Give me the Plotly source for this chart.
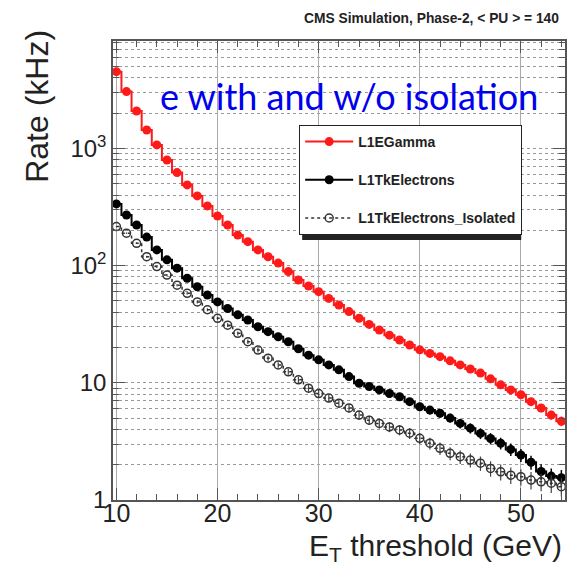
import plotly.graph_objects as go

et_threshold = list(range(10, 55))

rate_l1egamma = [4510, 3050, 2085, 1435, 1070, 796, 621, 488, 393, 323,
                 265, 222, 182, 160, 136, 119, 105, 88.8, 75.4, 67,
                 59.9, 52.5, 46.1, 40.5, 35.5, 31.5, 28.2, 25.5, 23.2, 21.0,
                 19.1, 17.8, 16.7, 15.4, 14.2, 13.1, 12.1, 10.8, 9.6, 8.7,
                 7.9, 6.9, 6.1, 5.3, 4.7]
err_l1egamma = [13.6, 11.2, 9.2, 7.7, 6.6, 5.7, 5.0, 4.5, 4.0, 3.6,
                3.3, 3.0, 2.7, 2.6, 2.4, 2.2, 2.1, 1.9, 1.8, 1.66,
                1.57, 1.47, 1.37, 1.29, 1.21, 1.14, 1.08, 1.02, 0.98, 0.93,
                0.88, 0.85, 0.83, 0.79, 0.76, 0.73, 0.70, 0.67, 0.63, 0.60,
                0.57, 0.53, 0.50, 0.47, 0.44]

rate_tkele = [336, 270, 222, 175, 136, 112, 95, 78, 66, 56,
              49, 43, 38, 34.3, 30.1, 27.3, 24.7, 22.4, 19.5, 17.2,
              15.7, 14.2, 12.9, 11.3, 9.9, 9.3, 8.7, 8.1, 7.6, 6.9,
              6.25, 5.85, 5.5, 5.0, 4.5, 4.1, 3.7, 3.35, 3.05, 2.7,
              2.42, 2.1, 1.75, 1.6, 1.55]
err_tkele = [3.7, 3.3, 3.0, 2.7, 2.4, 2.1, 2.0, 1.8, 1.6, 1.5,
             1.4, 1.33, 1.25, 1.19, 1.11, 1.06, 1.01, 0.96, 0.89, 0.84,
             0.80, 0.76, 0.73, 0.68, 0.64, 0.62, 0.60, 0.58, 0.56, 0.53,
             0.51, 0.49, 0.47, 0.45, 0.43, 0.41, 0.39, 0.37, 0.35, 0.33,
             0.31, 0.29, 0.27, 0.26, 0.25]

rate_tkele_iso = [215, 189, 155, 119, 98, 83, 68, 58, 49, 42,
                  35.5, 31, 26.4, 22.4, 19, 16.2, 14.2, 12.4, 10.6, 9.0,
                  8.1, 7.4, 6.7, 6.1, 5.3, 4.8, 4.5, 4.2, 3.96, 3.71,
                  3.36, 3.05, 2.76, 2.50, 2.34, 2.19, 2.06, 1.86, 1.74, 1.63,
                  1.58, 1.48, 1.43, 1.39, 1.30]
err_tkele_iso = [3.0, 2.8, 2.5, 2.2, 2.0, 1.8, 1.67, 1.54, 1.42, 1.31,
                 1.21, 1.13, 1.04, 0.96, 0.88, 0.81, 0.76, 0.71, 0.66, 0.61,
                 0.58, 0.55, 0.52, 0.50, 0.47, 0.44, 0.43, 0.41, 0.40, 0.39,
                 0.37, 0.35, 0.34, 0.32, 0.31, 0.30, 0.29, 0.28, 0.27, 0.26,
                 0.25, 0.25, 0.24, 0.24, 0.23]

y_tickvals = [1, 10, 100, 1000]
y_ticktext = ["1", "10", "10<sup>2</sup>", "10<sup>3</sup>"]
y_minor_vals = [m * d for d in (1, 10, 100, 1000) for m in range(2, 10)]

FONT = "Liberation Sans, Arial, Helvetica, sans-serif"

fig = go.Figure()

fig.add_trace(go.Scatter(
    x=et_threshold, y=rate_l1egamma, name="L1EGamma", legendgroup="a",
    mode="lines+markers", line=dict(color="#ff1a1a", width=2, shape="hvh"),
    marker=dict(symbol="circle", size=9, color="#ff1a1a"),
    error_y=dict(type="data", array=err_l1egamma, color="#ff1a1a", thickness=1.5, width=0),
))
fig.add_trace(go.Scatter(
    x=et_threshold, y=rate_tkele, name="L1TkElectrons", legendgroup="b",
    mode="lines+markers", line=dict(color="#000000", width=2, shape="hvh"),
    marker=dict(symbol="circle", size=9, color="#000000"),
    error_y=dict(type="data", array=err_tkele, color="#000000", thickness=1.5, width=0),
))
fig.add_trace(go.Scatter(
    x=et_threshold, y=rate_tkele_iso, name="L1TkElectrons_Isolated", legendgroup="c",
    mode="lines+markers", line=dict(color="#333333", width=1.5, dash="dot", shape="hvh"),
    marker=dict(symbol="circle-open", size=8, color="#333333", line=dict(width=1.5)),
    error_y=dict(type="data", array=err_tkele_iso, color="#444444", thickness=1.2, width=0),
))

axis_col = "#555555"
fig.update_xaxes(
    range=[9.665, 54.36], showline=True, linecolor=axis_col, linewidth=1.5, mirror="ticks",
    ticks="inside", ticklen=12, tickwidth=1, tickcolor=axis_col, tick0=10, dtick=10,
    showgrid=True, gridcolor="#aaaaaa", gridwidth=1, zeroline=False,
    minor=dict(dtick=2, tick0=10, ticks="inside", ticklen=6, tickcolor=axis_col, showgrid=False),
    tickfont=dict(family=FONT, size=25, color="#222222"), ticklabelstandoff=-10,
)
fig.update_yaxes(
    type="log", range=[0, 3.916], showline=True, linecolor=axis_col, linewidth=1.5, mirror="ticks",
    ticks="inside", ticklen=12, tickwidth=1, tickcolor=axis_col,
    tickmode="array", tickvals=y_tickvals, ticktext=y_ticktext,
    showgrid=True, gridcolor="#999999", gridwidth=1, griddash="dot", zeroline=False,
    minor=dict(tickmode="array", tickvals=y_minor_vals, ticks="inside", ticklen=6,
               tickcolor=axis_col, showgrid=True, gridcolor="#999999", gridwidth=1, griddash="dot"),
    tickfont=dict(family=FONT, size=24, color="#222222"),
)

# legend shadow
fig.add_shape(type="rect", xref="paper", yref="paper",
              x0=(303 - 113) / 454, x1=(523 - 113) / 454,
              y0=(500 - 240) / 459, y1=(500 - 128) / 459,
              fillcolor="#222222", line=dict(width=0), layer="above")

fig.update_layout(
    width=567, height=568,
    margin=dict(l=113, r=0, t=41, b=68),
    paper_bgcolor="white", plot_bgcolor="white",
    font=dict(family=FONT, color="#222222"),
    showlegend=True,
    legend=dict(x=(300 - 113) / 454, y=(500 - 125) / 459, xanchor="left", yanchor="top",
                bgcolor="white", bordercolor="#222222", borderwidth=1,
                font=dict(family=FONT, size=14, color="#222222", weight="bold"),
                tracegroupgap=17, itemwidth=48),
    annotations=[
        dict(text="CMS Simulation, Phase-2, < PU > = 140", xref="paper", yref="paper",
             x=(563 - 113) / 454, y=(500 - 18) / 459, xanchor="right", yanchor="middle",
             showarrow=False, font=dict(family=FONT, size=13.8, color="#222222", weight="bold")),
        dict(text="e with and w/o isolation", xref="paper", yref="paper",
             x=(350 - 113) / 454, y=(500 - 96) / 459, xanchor="center", yanchor="middle",
             showarrow=False, font=dict(family="Lato, Open Sans, sans-serif", size=36, color="#0000ee")),
        dict(text="E<sub>T</sub> threshold (GeV)", xref="paper", yref="paper",
             x=(566 - 113) / 454, y=(500 - 547) / 459, xanchor="right", yanchor="middle",
             showarrow=False, font=dict(family=FONT, size=30, color="#222222")),
        dict(text="Rate (kHz)", xref="paper", yref="paper", textangle=-90,
             x=(37 - 113) / 454, y=(500 - 28) / 459, xanchor="center", yanchor="top",
             showarrow=False, font=dict(family=FONT, size=32, color="#222222")),
    ],
)

fig.write_html("out.html")
